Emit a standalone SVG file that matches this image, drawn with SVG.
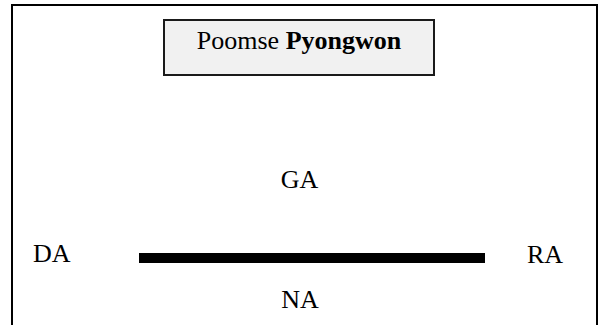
<svg xmlns="http://www.w3.org/2000/svg" width="605" height="325" viewBox="0 0 605 325">
<style>
.t{font-family:"Liberation Serif","Times New Roman",serif;font-size:26px;fill:#000}
.b{font-weight:bold}
</style>
<rect width="605" height="325" fill="#fff"/>
<g id="frame">
<path d="M12,330 V5 H597 V330" fill="none" stroke="#000" stroke-width="2"/>
</g>
<g id="title">
<rect x="164" y="20" width="270" height="55" fill="#f1f1f1" stroke="#1a1a1a" stroke-width="2"/>
<text class="t" x="299" y="49" text-anchor="middle">Poomse <tspan class="b">Pyongwon</tspan></text>
</g>
<g id="connectors">
<rect x="139" y="253" width="346" height="10" fill="#000"/>
</g>
<g id="ga"><text class="t" x="299.5" y="188" text-anchor="middle">GA</text></g>
<g id="na"><text class="t" x="300" y="308" text-anchor="middle">NA</text></g>
<g id="da"><text class="t" x="33" y="262">DA</text></g>
<g id="ra"><text class="t" x="527" y="263">RA</text></g>
</svg>
